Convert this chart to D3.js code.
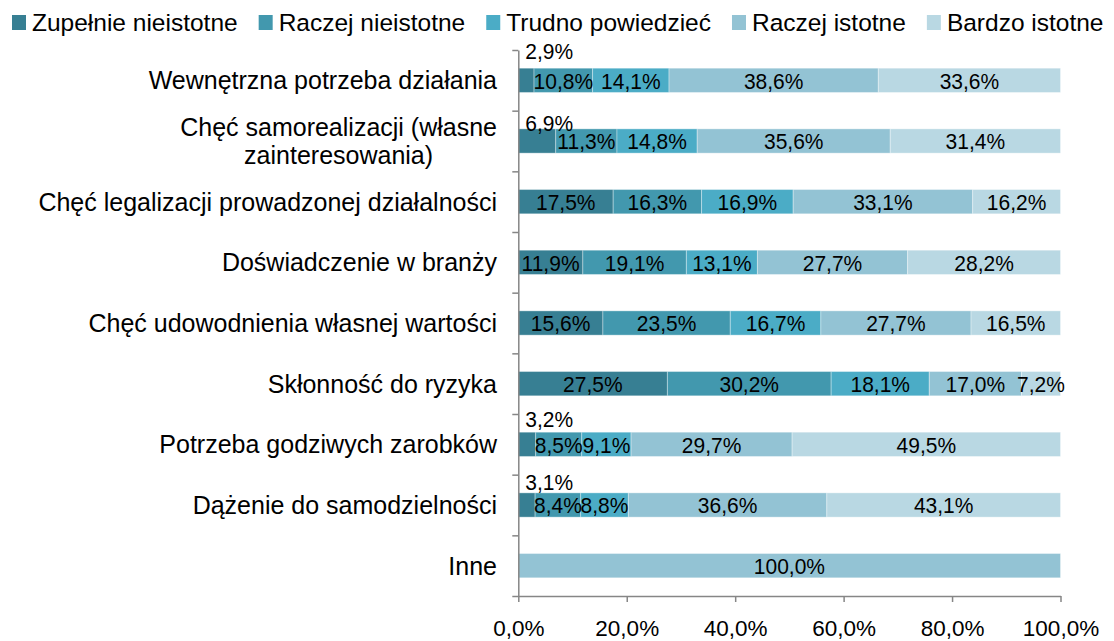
<!DOCTYPE html>
<html>
<head>
<meta charset="utf-8">
<script src="https://cdn.jsdelivr.net/npm/d3@7"></script>
<style>
  body { margin: 0; background: #fff; }
  svg { display: block; font-family: "Liberation Sans", Arial, sans-serif; }
</style>
</head>
<body>
<svg id="chart" width="1114" height="641"></svg>
<script>
const categories = [
  "Wewnętrzna  potrzeba działania",
  "Chęć samorealizacji (własne\nzainteresowania)",
  "Chęć legalizacji prowadzonej działalności",
  "Doświadczenie w branży",
  "Chęć udowodnienia własnej wartości",
  "Skłonność do ryzyka",
  "Potrzeba godziwych zarobków",
  "Dążenie do samodzielności",
  "Inne"
];

const seriesNames = ["Zupełnie nieistotne", "Raczej nieistotne", "Trudno powiedzieć", "Raczej istotne", "Bardzo istotne"];

const zupelnieNieistotne = [2.9, 6.9, 17.5, 11.9, 15.6, 27.5, 3.2, 3.1, 0];
const raczejNieistotne = [10.8, 11.3, 16.3, 19.1, 23.5, 30.2, 8.5, 8.4, 0];
const trudnoPowiedziec = [14.1, 14.8, 16.9, 13.1, 16.7, 18.1, 9.1, 8.8, 0];
const raczejIstotne = [38.6, 35.6, 33.1, 27.7, 27.7, 17.0, 29.7, 36.6, 100.0];
const bardzoIstotne = [33.6, 31.4, 16.2, 28.2, 16.5, 7.2, 49.5, 43.1, 0];

const xTicks = [0, 20, 40, 60, 80, 100];

const colors = ["#377f93", "#4298ae", "#4bacc6", "#93c3d4", "#b9d8e3"];

// small first-segment labels that sit above the bar (offset from bar top)
const raisedDy = [-9, 2, null, null, null, null, -5, -3, null];

const series = [zupelnieNieistotne, raczejNieistotne, trudnoPowiedziec, raczejIstotne, bardzoIstotne];

const fmt = (v) => v.toFixed(1).replace(".", ",") + "%";

const svg = d3.select("#chart");

const margin = { left: 518.3, right: 1060.5, top: 50, bottom: 596 };

const x = d3.scaleLinear().domain([0, 100]).range([margin.left, margin.right]);

const y = d3
  .scaleBand()
  .domain(categories)
  .range([margin.top, margin.bottom])
  .paddingInner(0.6)
  .paddingOuter(0.3);

const yLin = d3.scaleLinear().domain([0, categories.length]).range([margin.top, margin.bottom]);

// stacked rows
const rows = categories.map((c, i) => {
  let acc = 0;
  return series.map((s, k) => {
    const seg = { cat: c, row: i, k: k, v: s[i], x0: acc, x1: acc + s[i] };
    acc += s[i];
    return seg;
  });
});
const segments = rows.flat().filter((d) => d.v > 0);

svg
  .append("g")
  .selectAll("rect")
  .data(segments)
  .enter()
  .append("rect")
  .attr("x", (d) => x(d.x0))
  .attr("y", (d) => y(d.cat))
  .attr("width", (d) => x(d.x1) - x(d.x0))
  .attr("height", y.bandwidth())
  .attr("fill", (d) => colors[d.k])
  .attr("stroke", "rgba(255,255,255,0.35)")
  .attr("stroke-width", 1);

// data labels (glyphs in the source are slightly taller than wide)
svg
  .append("g")
  .selectAll("text")
  .data(segments)
  .enter()
  .append("text")
  .attr("font-size", 21)
  .attr("fill", "#000")
  .each(function (d) {
    const t = d3.select(this);
    const raised = d.k === 0 && raisedDy[d.row] !== null;
    if (raised) {
      t.attr("transform", `translate(${x(0) + 7},${y(d.cat) + raisedDy[d.row]}) scale(1,1.08)`)
        .attr("text-anchor", "start");
    } else {
      t.attr("transform", `translate(${(x(d.x0) + x(d.x1)) / 2},${y(d.cat) + y.bandwidth() / 2}) scale(1,1.08)`)
        .attr("dy", "0.36em")
        .attr("text-anchor", "middle");
    }
  })
  .text((d) => fmt(d.v));

// y axis with ticks at band boundaries
const yAxis = svg
  .append("g")
  .attr("transform", `translate(${margin.left},0)`)
  .call(d3.axisLeft(yLin).ticks(categories.length).tickFormat("").tickSizeInner(6).tickSizeOuter(0));
yAxis.selectAll("path, line").attr("stroke", "#868686").attr("stroke-width", 1.5);

// category labels
const catLabels = svg
  .append("g")
  .selectAll("text")
  .data(categories)
  .enter()
  .append("text")
  .attr("font-size", 25)
  .attr("fill", "#000")
  .attr("text-anchor", "middle");

catLabels.each(function (c) {
  const t = d3.select(this);
  const lines = c.split("\n");
  const cy = y(c) + y.bandwidth() / 2;
  const lineH = 28;
  const startY = cy - ((lines.length - 1) * lineH) / 2;
  lines.forEach((ln, j) => {
    t.append("tspan").attr("y", startY + j * lineH).attr("dy", "0.36em").text(ln);
  });
  let w = 0;
  t.selectAll("tspan").each(function () {
    w = Math.max(w, this.getComputedTextLength());
  });
  t.selectAll("tspan").attr("x", 497 - w / 2);
});

// x axis
const xAxis = svg
  .append("g")
  .attr("transform", `translate(0,${margin.bottom})`)
  .call(d3.axisBottom(x).tickValues(xTicks).tickFormat(fmt).tickSizeInner(6).tickSizeOuter(0));
xAxis.selectAll("path, line").attr("stroke", "#868686").attr("stroke-width", 1.5);
xAxis
  .selectAll("text")
  .attr("font-size", 22.5)
  .attr("font-family", "Liberation Sans, Arial, sans-serif")
  .attr("fill", "#000")
  .attr("y", 40)
  .attr("dy", "0");

// legend
const legend = svg.append("g");
let lx = 12;
seriesNames.forEach((name, k) => {
  legend.append("rect").attr("x", lx).attr("y", 15).attr("width", 14).attr("height", 15).attr("fill", colors[k]);
  const t = legend
    .append("text")
    .attr("x", lx + 20)
    .attr("y", 31)
    .attr("font-size", 24.5)
    .attr("fill", "#000")
    .text(name);
  lx += 20 + t.node().getComputedTextLength() + 21;
});
</script>
</body>
</html>
